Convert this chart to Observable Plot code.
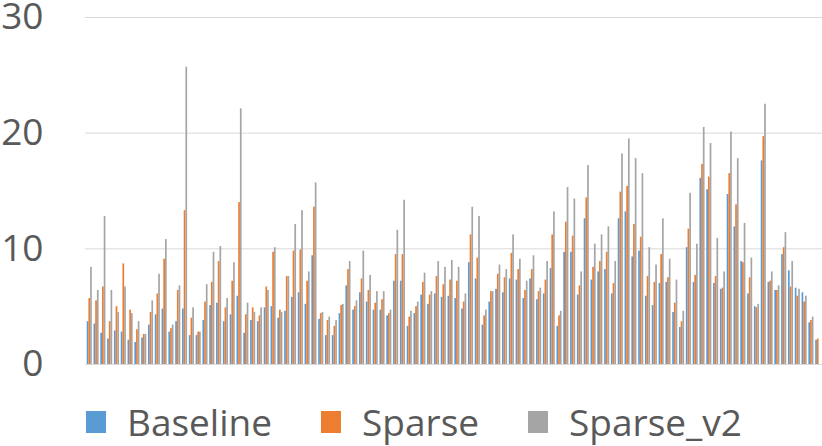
<!DOCTYPE html>
<html>
<head>
<meta charset="utf-8">
<script src="https://cdn.jsdelivr.net/npm/d3@7"></script>
<script src="https://cdn.jsdelivr.net/npm/@observablehq/plot@0.6"></script>
<style>
  html, body { margin: 0; padding: 0; background: #fff; overflow: hidden; }
  #chart { width: 822px; height: 446px; position: relative; font-family: "Open Sans", sans-serif; }
  #chart svg { position: absolute; left: 0; top: 0; overflow: visible; }
  #legend { position: absolute; left: 86px; top: 403px; display: flex; align-items: center; gap: 49px; color: #595959; font-size: 37px; line-height: 38px; }
  .item { display: flex; align-items: center; }
  .sw { width: 20px; height: 22px; margin-right: 21px; }
</style>
</head>
<body>
<div id="chart"></div>
<script>
const seriesNames = ["Baseline", "Sparse", "Sparse_v2"];
const seriesColors = ["#5B9BD5", "#ED7D31", "#A5A5A5"];
const yTicks = [0, 10, 20, 30];

const baseline = [
  3.7, 3.5, 2.7, 2.2, 2.9, 2.8, 2.1, 1.9, 2.3, 3.4, 4.3, 4.8, 2.8, 3.7, 4.8, 2.5, 2.5, 3.8,
  5.1, 5.3, 3.7, 4.3, 5.9, 2.7, 3.8, 3.7, 4.9, 5.0, 4.0, 4.6, 5.8, 6.2, 5.2, 9.4, 3.9, 2.5,
  2.5, 4.4, 6.8, 4.7, 6.2, 5.4, 4.7, 4.7, 4.2, 7.2, 7.2, 3.3, 4.4, 6.0, 5.2, 6.1, 5.8, 5.9,
  5.7, 4.8, 8.8, 7.4, 3.4, 5.4, 6.5, 6.2, 7.4, 7.3, 5.7, 7.4, 5.6, 6.1, 8.3, 3.3, 9.7,
  9.7, 6.0, 12.6, 7.3, 8.0, 8.2, 6.1, 12.6, 13.2, 9.3, 9.8, 5.9, 5.1, 7.0, 7.1, 4.5, 3.2, 10.1,
  7.1, 16.1, 15.1, 7.0, 6.5, 14.7, 11.9, 8.9, 6.1, 5.0, 17.6, 7.1, 6.4, 9.5, 8.1, 6.6, 6.2, 3.6, 2.1
];
const sparse = [
  5.7, 5.5, 6.7, 3.7, 5.0, 8.7, 4.7, 3.0, 2.6, 4.5, 6.1, 9.1, 3.1, 6.4, 13.3, 4.0, 2.8, 5.4,
  7.1, 8.9, 4.9, 7.2, 14.0, 4.3, 4.9, 4.2, 6.7, 9.7, 4.7, 7.6, 9.8, 9.9, 7.2, 13.6, 4.4, 3.8,
  3.3, 5.1, 8.2, 5.0, 7.4, 6.4, 5.3, 5.6, 4.4, 9.5, 9.5, 4.1, 5.0, 7.1, 6.0, 7.6, 6.9, 7.3,
  7.2, 5.4, 11.2, 9.2, 4.2, 6.3, 7.8, 7.5, 9.6, 8.2, 6.4, 8.2, 6.3, 7.3, 11.2, 4.2, 12.3,
  11.1, 6.8, 14.4, 8.4, 8.9, 9.7, 7.0, 14.9, 15.4, 12.1, 11.0, 7.6, 7.1, 9.5, 7.5, 5.3, 3.7, 11.7,
  7.7, 17.3, 16.2, 7.6, 6.6, 16.5, 13.8, 8.8, 7.5, 4.9, 19.7, 7.2, 6.4, 10.1, 6.7, 5.9, 5.4, 3.8, 2.2
];
const sparseV2 = [
  8.4, 6.4, 12.8, 6.4, 4.5, 6.7, 4.4, 3.7, 2.6, 5.5, 7.8, 10.8, 3.4, 6.8, 25.7, 4.9, 2.8, 6.9,
  9.7, 10.2, 5.7, 8.8, 22.1, 5.3, 4.5, 4.9, 6.4, 10.1, 4.5, 7.6, 12.1, 13.3, 8.0, 15.7, 4.5, 4.1,
  3.8, 5.2, 8.9, 5.5, 9.8, 7.7, 6.3, 6.3, 4.7, 11.6, 14.2, 4.6, 5.4, 7.9, 6.3, 8.9, 8.4, 9.0,
  8.4, 6.1, 13.6, 12.8, 4.7, 6.3, 8.6, 8.2, 11.2, 9.1, 7.2, 9.4, 6.6, 8.9, 13.2, 4.6, 15.3,
  14.3, 8.0, 17.2, 10.4, 11.2, 11.9, 8.9, 18.2, 19.5, 17.8, 16.5, 10.1, 8.6, 12.6, 9.1, 7.3, 4.6, 14.8,
  10.4, 20.5, 19.1, 10.9, 8.0, 20.1, 17.8, 12.2, 9.2, 5.2, 22.5, 8.0, 6.8, 11.4, 8.9, 6.5, 5.9, 4.1, null
];

const seriesValues = [baseline, sparse, sparseV2];
const nGroups = baseline.length;
const slot = 0.25; // each group: 3 bars + 1 gap slot
const table = [];
seriesValues.forEach((vals, k) => {
  vals.forEach((v, i) => {
    if (v == null) return;
    table.push({ series: seriesNames[k], x1: i + k * slot, x2: i + (k + 1) * slot, value: v });
  });
});

const plot = Plot.plot({
  width: 822,
  height: 392,
  marginLeft: 85,
  marginRight: 0,
  marginTop: 17,
  marginBottom: 28,
  style: { fontFamily: "'Open Sans', sans-serif", color: "#595959", background: "transparent", overflow: "visible" },
  x: { domain: [-slot, nGroups], axis: null },
  y: { domain: [0, 30], axis: null },
  color: { domain: seriesNames, range: seriesColors },
  marks: [
    Plot.ruleY(yTicks, { stroke: "#d9d9d9", strokeWidth: 1 }),
    Plot.rectY(table, { x1: "x1", x2: "x2", y: "value", fill: "series" }),
    Plot.axisY({ ticks: yTicks, tickSize: 0, tickPadding: 42, fontSize: 37, fill: "#595959", label: null, tickFormat: d => String(d) })
  ]
});
document.getElementById("chart").appendChild(plot);

const legend = document.createElement("div");
legend.id = "legend";
seriesNames.forEach((name, k) => {
  const item = document.createElement("div");
  item.className = "item";
  const sw = document.createElement("span");
  sw.className = "sw";
  sw.style.background = seriesColors[k];
  const label = document.createElement("span");
  label.textContent = name;
  item.appendChild(sw);
  item.appendChild(label);
  legend.appendChild(item);
});
document.getElementById("chart").appendChild(legend);
</script>
</body>
</html>
